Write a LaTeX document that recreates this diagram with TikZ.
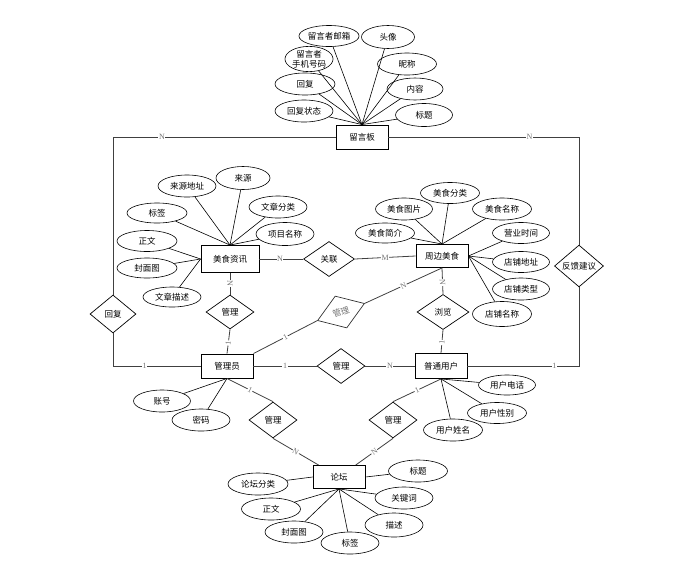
\documentclass[tikz,border=0pt]{standalone}
\usepackage{fontspec}
\usepackage{tikz}
\usetikzlibrary{shapes.geometric}
\newfontfamily\cjk{Noto Sans CJK SC}
\newfontfamily\tms{Liberation Serif}

\begin{document}
\begin{tikzpicture}[
    x=1pt, y=-1pt,
    entity/.style={rectangle, draw, line width=0.9pt, minimum width=52pt, minimum height=24pt, inner sep=1pt, font=\cjk\fontsize{8.5}{10}\selectfont},
    attr/.style={ellipse, draw, line width=0.6pt, minimum width=58pt, minimum height=22pt, inner sep=0pt, align=center, font=\cjk\fontsize{8.5}{10}\selectfont},
    rel/.style={diamond, draw, line width=0.7pt, minimum width=49pt, minimum height=36pt, inner sep=0pt, font=\cjk\fontsize{8.5}{10}\selectfont},
    link/.style={draw=black!75, line width=0.8pt},
    attrline/.style={draw, line width=0.6pt},
    card/.style={font=\tms\fontsize{8}{9}\selectfont, text=black!55, fill=white, inner sep=0.6pt}
]
\useasboundingbox (0,0) rectangle (685,571);

% Entities
\node[entity] (msg) at (362,137) {留言板};
\node[entity, minimum width=58pt, minimum height=27pt] (news) at (230,259) {美食资讯};
\node[entity, minimum height=23pt] (shop) at (442,256) {周边美食};
\node[entity] (admin) at (227,366) {管理员};
\node[entity, minimum height=25pt] (user) at (441,366) {普通用户};
\node[entity, minimum height=23pt] (forum) at (339,477) {论坛};

% Relationships
\node[rel, minimum width=46pt, minimum height=38pt] (reply) at (113,314) {回复};
\node[rel] (feedback) at (579,266) {反馈建议};
\node[rel, minimum width=51pt, minimum height=35pt] (assoc) at (329,259) {关联};
\node[rel, minimum width=48pt, minimum height=34pt] (mgrnews) at (230,312) {管理};
\node[rel, minimum width=50pt, minimum height=34pt, rotate=20, draw=black!80, text=black!55] (mgrshop) at (341,312) {管理};
\node[rel, minimum width=52pt, minimum height=35pt] (browse) at (443,312) {浏览};
\node[rel, minimum width=48pt, minimum height=35pt] (mgruser) at (341,366) {管理};
\node[rel, minimum width=48pt] (mgrforum) at (273,420) {管理};
\node[rel, minimum width=48pt] (userforum) at (393,420) {管理};

% Attributes of 留言板
\node[attr, minimum width=60pt, minimum height=21pt] (mEmail) at (329,36) {留言者邮箱};
\node[attr, minimum width=53pt, minimum height=23pt] (mAvatar) at (388,37) {头像};
\node[attr, minimum width=48pt] (mPhone) at (309,59) {留言者\\手机号码};
\node[attr, minimum width=59pt] (mNick) at (407,64) {昵称};
\node[attr, minimum width=60pt] (mReply) at (305,84) {回复};
\node[attr, minimum width=56pt] (mContent) at (415,89) {内容};
\node[attr] (mState) at (304,111) {回复状态};
\node[attr, minimum width=57pt, minimum height=23pt] (mTitle) at (424,115) {标题};
\foreach \a in {mEmail,mAvatar,mPhone,mNick,mReply,mContent,mState,mTitle}
    \draw[attrline] (\a) -- (msg.north);

% Attributes of 美食资讯
\node[attr] (nSrcUrl) at (187,186) {来源地址};
\node[attr, minimum width=54pt, minimum height=23pt] (nSrc) at (243,178) {来源};
\node[attr, minimum width=60pt, minimum height=20pt] (nTag) at (157,213) {标签};
\node[attr] (nType) at (278,207) {文章分类};
\node[attr, minimum height=23pt] (nItem) at (285,234) {项目名称};
\node[attr, minimum width=60pt, minimum height=21pt] (nBody) at (147,241) {正文};
\node[attr, minimum width=60pt, minimum height=20pt] (nCover) at (147,268) {封面图};
\node[attr, minimum height=20pt] (nDesc) at (172,297) {文章描述};
\foreach \a in {nSrcUrl,nSrc,nTag,nType,nItem}
    \draw[attrline] (\a) -- (news.north);
\foreach \a in {nBody,nCover,nDesc}
    \draw[attrline] (\a) -- (news.west);

% Attributes of 周边美食
\node[attr, minimum width=59pt, minimum height=21pt] (sType) at (450,193) {美食分类};
\node[attr, minimum width=57pt] (sPic) at (404,209) {美食图片};
\node[attr, minimum width=59pt] (sName) at (502,209) {美食名称};
\node[attr, minimum width=59pt, minimum height=20pt] (sIntro) at (385,233) {美食简介};
\node[attr, minimum width=57pt, minimum height=21pt] (sHours) at (521,233) {营业时间};
\node[attr, minimum width=57pt, minimum height=21pt] (sAddr) at (521,262) {店铺地址};
\node[attr, minimum width=57pt] (sKind) at (521,289) {店铺类型};
\node[attr, minimum width=59pt, minimum height=25pt] (sShop) at (502,314) {店铺名称};
\foreach \a in {sType,sPic,sName,sIntro}
    \draw[attrline] (\a) -- (shop.north);
\foreach \a in {sHours,sAddr,sKind,sShop}
    \draw[attrline] (\a) -- (shop.east);

% Attributes of 管理员 and 普通用户
\node[attr, minimum width=57pt] (aAcct) at (162,401) {账号};
\node[attr] (aPwd) at (201,420) {密码};
\draw[attrline] (aAcct) -- (admin.south);
\draw[attrline] (aPwd) -- (admin.south);
\node[attr, minimum width=57pt, minimum height=20pt] (uPhone) at (507,385) {用户电话};
\node[attr, minimum width=59pt, minimum height=21pt] (uSex) at (497,413) {用户性别};
\node[attr, minimum width=59pt] (uName) at (453,430) {用户姓名};
\foreach \a in {uPhone,uSex,uName}
    \draw[attrline] (\a) -- (user.south);

% Attributes of 论坛
\node[attr, minimum width=59pt] (fTitle) at (418,471) {标题};
\node[attr, minimum width=60pt] (fType) at (258,484) {论坛分类};
\node[attr] (fKey) at (404,498) {关键词};
\node[attr, minimum width=59pt] (fBody) at (271,509) {正文};
\node[attr, minimum height=24pt] (fDesc) at (394,525) {描述};
\node[attr] (fCover) at (294,532) {封面图};
\node[attr] (fTag) at (350,543) {标签};
\draw[attrline] (fType) -- (forum.west);
\draw[attrline] (fTitle) -- (forum.east);
\foreach \a in {fBody,fCover,fTag,fDesc,fKey}
    \draw[attrline] (\a) -- (forum.south);

% Relationship links
\draw[link] (msg.west) -| node[card, pos=0.39] {N} (reply.north);
\draw[link] (msg.east) -| node[card, pos=0.37] {N} (feedback.north);
\draw[link] (reply.south) |- node[card, pos=0.68] {1} (admin.west);
\draw[link] (feedback.south) |- node[card, pos=0.61] {1} (user.east);
\draw[link] (news.east) -- node[card, pos=0.47] {N} (assoc.west);
\draw[link] (assoc.east) -- node[card] {M} (shop.west);
\draw[link] (news.south) -- node[card, sloped] {N} (mgrnews.north);
\draw[link] (mgrnews.south) -- node[card, sloped, pos=0.56] {1} (admin.north);
\draw[link] (admin.north east) -- node[card, sloped] {1} (mgrshop.west);
\draw[link] (mgrshop.east) -- node[card, sloped] {N} (shop.south);
\draw[link] (shop.south) -- node[card, sloped, pos=0.55] {N} (browse.north);
\draw[link] (browse.south) -- node[card, sloped, pos=0.55] {1} (user.north);
\draw[link] (admin.east) -- node[card] {1} (mgruser.west);
\draw[link] (mgruser.east) -- node[card] {N} (user.west);
\draw[link] (admin.south) -- node[card, sloped] {1} (mgrforum.north);
\draw[link] (mgrforum.south) -- node[card, sloped] {N} (forum);
\draw[link] (user.south) -- node[card, sloped] {1} (userforum.north);
\draw[link] (userforum.south) -- node[card, sloped] {N} (forum);

\end{tikzpicture}
\end{document}
